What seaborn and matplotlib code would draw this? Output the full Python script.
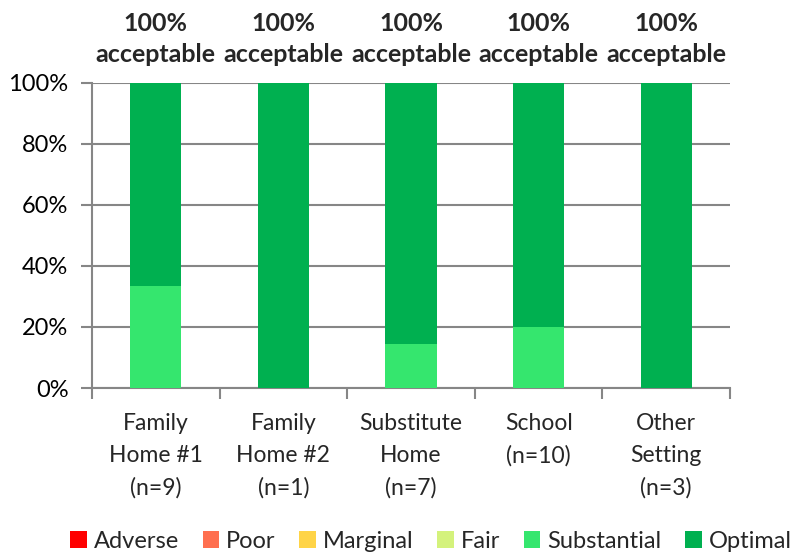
import numpy as np
import pandas as pd
import seaborn as sns
import matplotlib.pyplot as plt
from matplotlib.patches import Patch
from matplotlib.ticker import FixedLocator, PercentFormatter

# %% data
settings = ["Family\nHome #1\n(n=9)", "Family\nHome #2\n(n=1)", "Substitute\nHome\n(n=7)",
            "School\n(n=10)", "Other\nSetting\n(n=3)"]
adverse = [0, 0, 0, 0, 0]
poor = [0, 0, 0, 0, 0]
marginal = [0, 0, 0, 0, 0]
fair = [0, 0, 0, 0, 0]
substantial = [33.3, 0, 14.3, 20.0, 0]
optimal = [66.7, 100, 85.7, 80.0, 100]
acceptable = ["100%\nacceptable"] * 5

levels = ["Adverse", "Poor", "Marginal", "Fair", "Substantial", "Optimal"]
colors = ["#FF0000", "#FF6F4F", "#FFD447", "#D4F27C", "#35E66E", "#00B050"]

df = pd.DataFrame({"setting": settings, "Adverse": adverse, "Poor": poor, "Marginal": marginal,
                   "Fair": fair, "Substantial": substantial, "Optimal": optimal})
cum = df[levels].cumsum(axis=1)

# %% plot
sns.set_style("white")
plt.rcParams["font.family"] = ["Lato", "DejaVu Sans"]
grey = "#868686"

fig = plt.figure(figsize=(7.98, 5.55), dpi=100)
ax = fig.add_axes([0.1153, 0.3009, 0.7995, 0.5496])

# draw cumulative stacks from the top level down so lower ones overlay
for lvl, col in zip(reversed(levels), reversed(colors)):
    sns.barplot(x=df["setting"], y=cum[lvl], color=col, width=0.4, saturation=1,
                ax=ax, zorder=3, linewidth=0)

ax.set_ylim(0, 100)
ax.set_xlim(-0.5, 4.5)
ax.yaxis.set_major_locator(FixedLocator([0, 20, 40, 60, 80, 100]))
ax.yaxis.set_major_formatter(PercentFormatter(decimals=0))
ax.grid(axis="y", color=grey, linewidth=1.5, zorder=0)
ax.set_xlabel("")
ax.set_ylabel("")

for s in ["top", "right"]:
    ax.spines[s].set_visible(False)
for s in ["left", "bottom"]:
    ax.spines[s].set_color(grey)
    ax.spines[s].set_linewidth(1.5)

ax.tick_params(axis="y", which="major", left=True, length=8, width=1.5, color=grey,
               labelsize=17, pad=9, labelcolor="black")
ax.set_xticks(range(5))
ax.set_xticklabels(settings, fontsize=16.5, linespacing=1.65)
ax.tick_params(axis="x", which="major", length=0, pad=18)
ax.set_xticks(np.arange(-0.5, 5, 1), minor=True)
ax.tick_params(axis="x", which="minor", bottom=True, length=8, width=1.5, color=grey)

for i, txt in enumerate(acceptable):
    ax.text(i, 105.5, txt, ha="center", va="bottom", fontsize=18, fontweight="bold",
            linespacing=1.45)

handles = [Patch(facecolor=c, edgecolor="none", label=l) for l, c in zip(levels, colors)]
fig.legend(handles=handles, loc="center", bbox_to_anchor=(0.54, 0.025), ncol=6,
           frameon=False, fontsize=17, handlelength=0.7, handleheight=0.7,
           handletextpad=0.3, columnspacing=1.0)

fig.savefig("out.png", dpi=100)
